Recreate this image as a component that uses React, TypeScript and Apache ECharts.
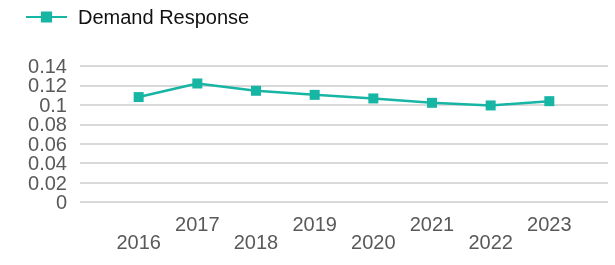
import React, { useEffect, useRef } from "react";
import * as echarts from "echarts";

const years = [2016, 2017, 2018, 2019, 2020, 2021, 2022, 2023];
const demandResponse = [0.108, 0.122, 0.1145, 0.1103, 0.1066, 0.1021, 0.0994, 0.1038];
const yTicks = { min: 0, max: 0.14, interval: 0.02 };
const yTickLabels = ["0", "0.02", "0.04", "0.06", "0.08", "0.1", "0.12", "0.14"];
const seriesName = "Demand Response";

const FONT = "'Liberation Sans', Arial, sans-serif";
const TEAL = "#17b5a4";

export default function App() {
  const ref = useRef<HTMLDivElement>(null);
  useEffect(() => {
    if (!ref.current) return;
    const chart = echarts.init(ref.current, null, { renderer: "svg" });
    chart.setOption({
      animation: false,
      textStyle: { fontFamily: FONT },
      legend: {
        data: [seriesName],
        left: 25,
        top: 7,
        padding: 0,
        itemWidth: 41,
        itemHeight: 14,
        textStyle: { fontSize: 20, color: "#111", fontFamily: FONT, padding: [0, 0, 0, 6] },
      },
      grid: { left: 80, right: 7, top: 66, bottom: 63, containLabel: false },
      xAxis: {
        type: "value",
        min: years[0] - 1,
        max: years[years.length - 1] + 1,
        interval: 1,
        axisLine: { show: false },
        axisTick: { show: false },
        splitLine: { show: false },
        axisLabel: {
          fontSize: 20,
          color: "#595959",
          fontFamily: FONT,
          margin: 13,
          lineHeight: 18,
          showMinLabel: false,
          showMaxLabel: false,
          formatter: (v: number) => {
            if (!years.includes(v)) return "";
            return v % 2 === 0 ? "\n" + v : String(v);
          },
        },
      },
      yAxis: [
        {
          type: "value",
          min: yTicks.min,
          max: yTicks.max,
          interval: yTicks.interval,
          axisLine: { show: false },
          axisTick: { show: false },
          splitLine: { lineStyle: { color: "#d9d9d9", width: 2 } },
          axisLabel: { show: false },
        },
        {
          type: "category",
          position: "left",
          data: yTickLabels,
          boundaryGap: false,
          axisLine: { show: false },
          axisTick: { show: false },
          splitLine: { show: false },
          axisLabel: {
            interval: 0,
            fontSize: 20,
            lineHeight: 16,
            color: "#595959",
            fontFamily: FONT,
            margin: 13,
          },
        },
      ],
      series: [
        {
          name: seriesName,
          type: "line",
          yAxisIndex: 0,
          data: years.map((y, i) => [y, demandResponse[i]]),
          symbol: "rect",
          symbolSize: 10,
          lineStyle: { color: TEAL, width: 2.5 },
          itemStyle: { color: TEAL },
        },
      ],
    });
    return () => chart.dispose();
  }, []);
  return (
    <div
      ref={ref}
      style={{ position: "fixed", left: 0, top: 0, width: 615, height: 265 }}
    />
  );
}
